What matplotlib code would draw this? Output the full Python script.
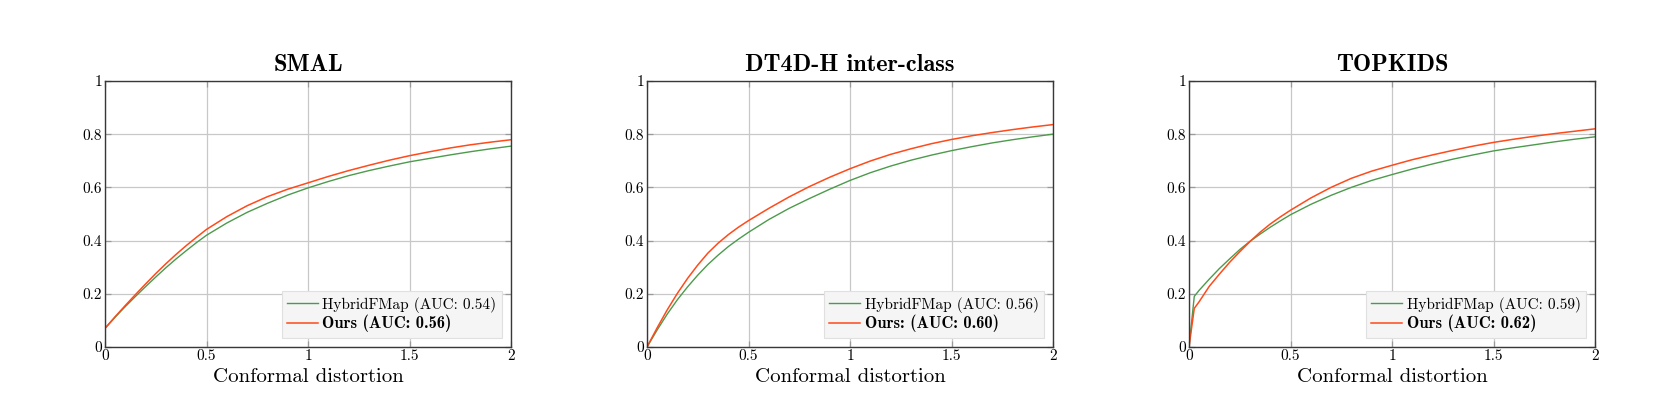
import matplotlib
matplotlib.use("Agg")
import matplotlib.pyplot as plt

plt.rcParams['font.family'] = ['cmr10', 'DejaVu Sans']
plt.rcParams['axes.formatter.use_mathtext'] = True

GREEN = '#4c9a4c'
RED = '#ff4a1a'

titles = ['SMAL', 'DT4D-H inter-class', 'TOPKIDS']
green_labels = ['HybridFMap (AUC: 0.54)', 'HybridFMap (AUC: 0.56)', 'HybridFMap (AUC: 0.59)']
red_labels = ['Ours (AUC: 0.56)', 'Ours: (AUC: 0.60)', 'Ours (AUC: 0.62)']

# conformal distortion thresholds
dist = [0, 0.05, 0.1, 0.15, 0.2, 0.25, 0.3, 0.35, 0.4, 0.45, 0.5,
        0.6, 0.7, 0.8, 0.9, 1.0, 1.1, 1.2, 1.3, 1.4, 1.5, 1.6, 1.7, 1.8, 1.9, 2.0]

# SMAL
smal_hybrid = [0.07, 0.112, 0.152, 0.19, 0.227, 0.263, 0.298, 0.331, 0.362, 0.392, 0.42,
               0.466, 0.506, 0.54, 0.571, 0.598, 0.622, 0.644, 0.663, 0.68, 0.696,
               0.709, 0.722, 0.734, 0.745, 0.755]
smal_ours = [0.07, 0.114, 0.156, 0.197, 0.237, 0.276, 0.313, 0.348, 0.381, 0.412, 0.442,
             0.49, 0.531, 0.565, 0.593, 0.617, 0.641, 0.663, 0.683, 0.702, 0.719,
             0.734, 0.748, 0.76, 0.77, 0.779]

# DT4D-H inter-class
dt4d_hybrid = [0, 0.064, 0.124, 0.178, 0.226, 0.27, 0.31, 0.345, 0.377, 0.405, 0.431,
               0.479, 0.521, 0.558, 0.593, 0.626, 0.655, 0.68, 0.702, 0.721, 0.738,
               0.753, 0.767, 0.779, 0.79, 0.80]
dt4d_ours = [0, 0.072, 0.14, 0.202, 0.258, 0.308, 0.353, 0.39, 0.422, 0.45, 0.475,
             0.521, 0.564, 0.603, 0.638, 0.67, 0.699, 0.724, 0.745, 0.764, 0.78,
             0.794, 0.806, 0.817, 0.827, 0.836]

# TOPKIDS (sharp rise right after zero)
top_dist = [0, 0.026, 0.05, 0.1, 0.15, 0.2, 0.25, 0.3, 0.35, 0.4, 0.45, 0.5,
            0.6, 0.7, 0.8, 0.9, 1.0, 1.1, 1.2, 1.3, 1.4, 1.5, 1.6, 1.7, 1.8, 1.9, 2.0]
top_hybrid = [0, 0.19, 0.213, 0.255, 0.295, 0.331, 0.366, 0.397, 0.424, 0.45, 0.474, 0.497,
              0.536, 0.57, 0.6, 0.626, 0.648, 0.669, 0.688, 0.706, 0.722, 0.737,
              0.749, 0.76, 0.771, 0.781, 0.79]
top_ours = [0, 0.145, 0.17, 0.228, 0.274, 0.318, 0.358, 0.396, 0.431, 0.462, 0.489, 0.514,
            0.56, 0.6, 0.634, 0.661, 0.683, 0.704, 0.722, 0.739, 0.755, 0.769,
            0.781, 0.792, 0.802, 0.811, 0.82]

panels = [
    (dist, smal_hybrid, smal_ours),
    (dist, dt4d_hybrid, dt4d_ours),
    (top_dist, top_hybrid, top_ours),
]

xticks = [0, 0.5, 1, 1.5, 2]
xticklabels = ['0', '0.5', '1', '1.5', '2']
yticks = [0, 0.2, 0.4, 0.6, 0.8, 1]
yticklabels = ['0', '0.2', '0.4', '0.6', '0.8', '1']

fig = plt.figure(figsize=(16.62, 4.16), dpi=100)
lefts = [0.0632, 0.3893, 0.7154]

for i, (xs, yg, yr) in enumerate(panels):
    ax = fig.add_axes([lefts[i], 0.166, 0.2443, 0.6394])
    ax.plot(xs, yg, color=GREEN, lw=1.0, label=green_labels[i])
    ax.plot(xs, yr, color=RED, lw=1.1, label=red_labels[i])
    ax.set_xlim(0, 2)
    ax.set_ylim(0, 1)
    ax.set_xticks(xticks)
    ax.set_xticklabels(xticklabels)
    ax.set_yticks(yticks)
    ax.set_yticklabels(yticklabels)
    ax.grid(True, color='#c8c8c8', lw=0.9)
    ax.set_axisbelow(True)
    ax.tick_params(direction='in', length=4, width=0.9, color='#9a9a9a',
                   top=True, right=True, labelsize=11, pad=2)
    for sp in ax.spines.values():
        sp.set_color('#383838')
        sp.set_linewidth(1.0)
    ax.set_title(titles[i], fontsize=17.5, fontfamily='cmb10', pad=7)
    ax.set_xlabel('Conformal distortion', fontsize=15, labelpad=3)
    leg = ax.legend(loc='lower right', fontsize=11, frameon=True, fancybox=False,
                    handlelength=2.0, handletextpad=0.3, borderpad=0.35,
                    labelspacing=0.15, borderaxespad=0.6)
    leg.get_frame().set_facecolor('#f5f5f5')
    leg.get_frame().set_edgecolor('#e0e0e0')
    leg.get_frame().set_linewidth(0.8)
    leg.get_frame().set_alpha(1)
    bold = leg.get_texts()[1]
    bold.set_fontfamily('cmb10')
    bold.set_fontsize(11.8)

fig.savefig('out.png', dpi=100)
